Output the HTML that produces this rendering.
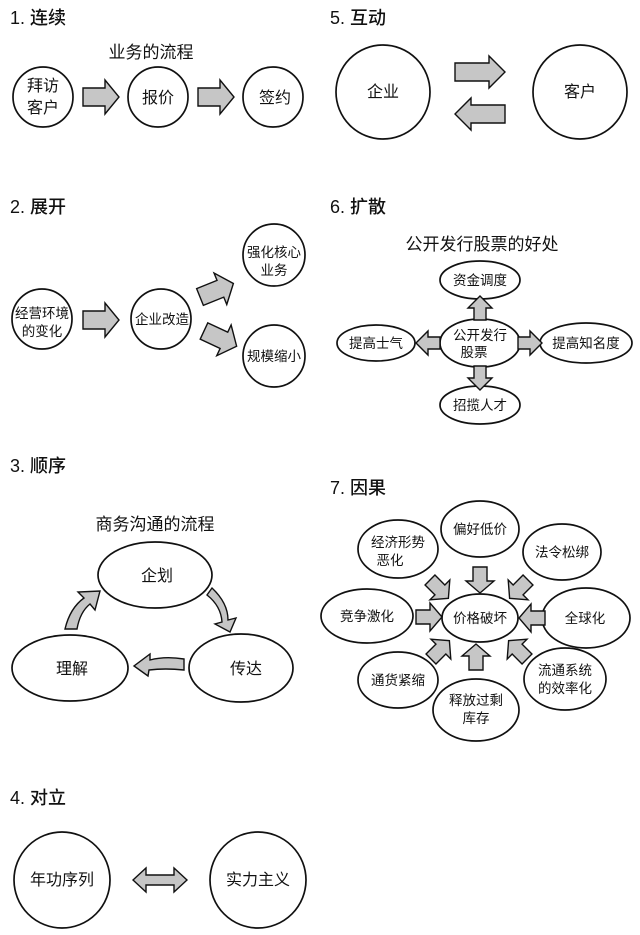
<!DOCTYPE html>
<html><head><meta charset="utf-8"><style>
html,body{margin:0;padding:0;background:#fff;}
svg{display:block;}
text{font-family:"Liberation Sans","Noto Sans CJK SC",sans-serif;fill:#111;}
.t{font-size:18px;font-weight:500;}
.n{font-size:16px;text-anchor:middle;}
.s{font-size:13.5px;text-anchor:middle;}
.h{font-size:17px;text-anchor:middle;}
.c{fill:#fff;stroke:#111;stroke-width:1.7;}
.a{fill:#c6c6c6;stroke:#111;stroke-width:1.4;stroke-linejoin:miter;}
</style></head><body>
<svg width="640" height="935" viewBox="0 0 640 935" xmlns="http://www.w3.org/2000/svg">
<defs>
<path id="ar" class="a" d="M0,-9 L22,-9 L22,-17 L36,0 L22,17 L22,9 L0,9 Z"/>
<path id="arL" class="a" d="M0,-9 L34,-9 L34,-16 L50,0 L34,16 L34,9 L0,9 Z"/>
<path id="arS" class="a" d="M0,-6 L12,-6 L12,-12 L24,0 L12,12 L12,6 L0,6 Z"/>
<path id="arM" class="a" d="M0,-7 L14,-7 L14,-14 L26,0 L14,14 L14,7 L0,7 Z"/>
</defs>

<!-- 1 -->
<text class="t" x="10" y="24">1. 连续</text>
<text class="h" x="151" y="58">业务的流程</text>
<circle class="c" cx="43" cy="97" r="30"/>
<text class="n" x="43" y="91">拜访</text><text class="n" x="43" y="113">客户</text>
<use href="#ar" x="83" y="97"/>
<circle class="c" cx="158" cy="97" r="30"/>
<text class="n" x="158" y="103">报价</text>
<use href="#ar" x="198" y="97"/>
<circle class="c" cx="273" cy="97" r="30"/>
<text class="n" x="275" y="103">签约</text>

<!-- 5 -->
<text class="t" x="330" y="24">5. 互动</text>
<circle class="c" cx="383" cy="92" r="47"/>
<text class="n" x="383" y="97">企业</text>
<circle class="c" cx="580" cy="92" r="47"/>
<text class="n" x="580" y="97">客户</text>
<use href="#arL" x="455" y="72"/>
<g transform="translate(505,114) rotate(180)"><use href="#arL"/></g>

<!-- 2 -->
<text class="t" x="10" y="213">2. 展开</text>
<circle class="c" cx="42" cy="319" r="30"/>
<text class="s" x="42" y="318">经营环境</text><text class="s" x="42" y="336">的变化</text>
<use href="#ar" x="83" y="320"/>
<circle class="c" cx="161" cy="319" r="30"/>
<text class="s" x="162" y="324">企业改造</text>
<circle class="c" cx="274" cy="255" r="31"/>
<text class="s" x="274" y="257">强化核心</text><text class="s" x="274" y="275">业务</text>
<circle class="c" cx="274" cy="356" r="31"/>
<text class="s" x="274" y="361">规模缩小</text>
<g transform="translate(200,297) rotate(-22)"><use href="#ar"/></g>
<g transform="translate(204,331) rotate(25)"><use href="#ar"/></g>

<!-- 6 -->
<text class="t" x="330" y="213">6. 扩散</text>
<text class="h" x="482" y="250">公开发行股票的好处</text>
<ellipse class="c" cx="480" cy="280" rx="40" ry="19"/>
<text class="s" x="480" y="285">资金调度</text>
<ellipse class="c" cx="480" cy="343" rx="40" ry="24"/>
<text class="s" x="480" y="340">公开发行</text><text class="s" x="474" y="357">股票</text>
<ellipse class="c" cx="376" cy="343" rx="39" ry="18"/>
<text class="s" x="376" y="348">提高士气</text>
<ellipse class="c" cx="586" cy="343" rx="46" ry="20"/>
<text class="s" x="586" y="348">提高知名度</text>
<ellipse class="c" cx="480" cy="405" rx="40" ry="19"/>
<text class="s" x="480" y="410">招揽人才</text>
<g transform="translate(480,320) rotate(-90)"><use href="#arS"/></g>
<g transform="translate(480,366) rotate(90)"><use href="#arS"/></g>
<g transform="translate(440,343) rotate(180)"><use href="#arS"/></g>
<use href="#arS" x="518" y="343"/>

<!-- 3 -->
<text class="t" x="10" y="472">3. 顺序</text>
<text class="h" x="155" y="530">商务沟通的流程</text>
<ellipse class="c" cx="155" cy="575" rx="57" ry="33"/>
<text class="n" x="157" y="581">企划</text>
<ellipse class="c" cx="70" cy="668" rx="58" ry="33"/>
<text class="n" x="72" y="674">理解</text>
<ellipse class="c" cx="241" cy="668" rx="52" ry="34"/>
<text class="n" x="246" y="674">传达</text>
<path class="a" d="M65,629 Q70,608 84,598 L78,592 L100,591 L95,610 L90,604 Q80,612 77,629 Z"/>
<path class="a" d="M212,588 Q228,603 228,620 L236,618 L230,632 L215,624 L222,622 Q221,606 207,595 Z"/>
<path class="a" d="M184,659 Q165,656 150,660 L150,654 L134,666 L148,676 L149,670 Q165,668 184,670 Z"/>

<!-- 7 -->
<text class="t" x="330" y="494">7. 因果</text>
<ellipse class="c" cx="480" cy="618" rx="38" ry="24"/>
<text class="s" x="480" y="623">价格破坏</text>
<ellipse class="c" cx="480" cy="529" rx="39" ry="28"/>
<text class="s" x="480" y="534">偏好低价</text>
<ellipse class="c" cx="398" cy="549" rx="40" ry="29"/>
<text class="s" x="398" y="547">经济形势</text><text class="s" x="390" y="565">恶化</text>
<ellipse class="c" cx="562" cy="552" rx="39" ry="28"/>
<text class="s" x="562" y="557">法令松绑</text>
<ellipse class="c" cx="367" cy="616" rx="46" ry="27"/>
<text class="s" x="367" y="621">竞争激化</text>
<ellipse class="c" cx="586" cy="618" rx="44" ry="30"/>
<text class="s" x="585" y="623">全球化</text>
<ellipse class="c" cx="398" cy="680" rx="40" ry="28"/>
<text class="s" x="398" y="685">通货紧缩</text>
<ellipse class="c" cx="476" cy="710" rx="43" ry="31"/>
<text class="s" x="476" y="705">释放过剩</text><text class="s" x="476" y="723">库存</text>
<ellipse class="c" cx="565" cy="679" rx="41" ry="31"/>
<text class="s" x="565" y="675">流通系统</text><text class="s" x="565" y="693">的效率化</text>
<g transform="translate(480,567) rotate(90)"><use href="#arM"/></g>
<g transform="translate(430,580) rotate(45)"><use href="#arM"/></g>
<g transform="translate(528,580) rotate(135)"><use href="#arM"/></g>
<use href="#arM" x="416" y="617"/>
<g transform="translate(545,618) rotate(180)"><use href="#arM"/></g>
<g transform="translate(431,659) rotate(-45)"><use href="#arM"/></g>
<g transform="translate(476,670) rotate(-90)"><use href="#arM"/></g>
<g transform="translate(527,659) rotate(-135)"><use href="#arM"/></g>

<!-- 4 -->
<text class="t" x="10" y="804">4. 对立</text>
<circle class="c" cx="62" cy="880" r="48"/>
<text class="n" x="62" y="885">年功序列</text>
<circle class="c" cx="258" cy="880" r="48"/>
<text class="n" x="258" y="885">实力主义</text>
<path class="a" d="M133,880 L146,868 L146,875 L174,875 L174,868 L187,880 L174,892 L174,885 L146,885 L146,892 Z"/>
</svg>
</body></html>
